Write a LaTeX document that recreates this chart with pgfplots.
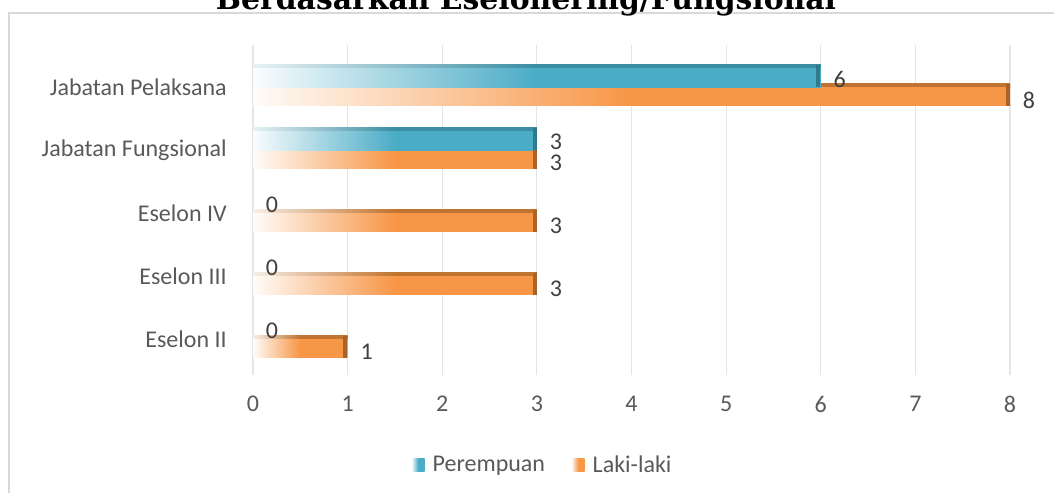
\documentclass[border=0pt]{standalone}
\usepackage{pgfplots}
\pgfplotsset{compat=1.18}
\usepackage{fontspec}
\setmainfont{Carlito}
\newfontfamily\titlefont{DejaVu Serif}

\definecolor{pblue}{HTML}{4BACC6}
\definecolor{pbluetop}{HTML}{3A8DA3}
\definecolor{pblueside}{HTML}{2F7A8E}
\definecolor{lorange}{HTML}{F79646}
\definecolor{lorangetop}{HTML}{C0742F}
\definecolor{lorangeside}{HTML}{A8622A}
\definecolor{txtgray}{HTML}{595959}
\definecolor{lblgray}{HTML}{404040}
\definecolor{framegray}{HTML}{D9D9D9}

\tikzset{label node/.style={font=\fontsize{18}{20}\selectfont, text=lblgray,
    anchor=west, inner sep=0pt, xshift=9.5pt}}

% one \addplot per bar, so that each bar gets its own gradient;
% the empty node at the bar end is the darker side face
\pgfplotsset{
  obar/.style={xbar, bar width=0.3, bar shift=-0.15, draw=none, forget plot,
    left color=lorange!3, right color=lorange, middle color=lorange,
    nodes near coords={}, every node near coord/.append style={anchor=east,
      fill=lorangeside, inner sep=0pt, minimum width=3pt, minimum height=16.5pt,
      yshift=-5.8pt}},
  otop/.style={xbar, bar width=0.06, bar shift=0.03, draw=none, forget plot,
    left color=lorangetop!12, right color=lorangetop, middle color=lorangetop},
  bbar/.style={xbar, bar width=0.3, bar shift=0.15, draw=none, forget plot,
    left color=pblue!3, right color=pblue, middle color=pblue,
    nodes near coords={}, every node near coord/.append style={anchor=east,
      fill=pblueside, inner sep=0pt, minimum width=3pt, minimum height=16.5pt,
      yshift=8.3pt}},
  btop/.style={xbar, bar width=0.06, bar shift=0.33, draw=none, forget plot,
    left color=pbluetop!12, right color=pbluetop, middle color=pbluetop},
}

\begin{document}
\begin{tikzpicture}
\useasboundingbox (0,0) rectangle (790.5pt,369.75pt);
\draw[framegray, line width=1.5pt] (6.75pt,-2pt) -- (6.75pt,360pt) -- (800pt,360pt);
\node[anchor=base, inner sep=0pt] at (394.5pt,362.25pt)
  {\resizebox{465pt}{!}{\titlefont\bfseries Berdasarkan Eselonering/Fungsional}};

\begin{axis}[
  at={(189.75pt,88.5pt)}, anchor=south west,
  scale only axis, width=567.75pt, height=247.5pt,
  xmin=0, xmax=8, ymin=-0.571, ymax=4.667,
  xtick={0,...,8}, ytick={0,...,4},
  yticklabels={Eselon II,Eselon III,Eselon IV,Jabatan Fungsional,Jabatan Pelaksana},
  axis line style={draw=none}, tick style={draw=none},
  xmajorgrids, grid style={black!10, line width=0.8pt},
  /pgf/number format/assume math mode=true,
  tick label style={font=\fontsize{18}{20}\selectfont, text=txtgray, inner sep=0pt},
  yticklabel style={xshift=-19.5pt},
  xticklabel style={yshift=-15.75pt},
  legend style={at={(0.383,-0.273)}, anchor=center, draw=none, fill=none,
    font=\fontsize{18}{20}\selectfont, text=txtgray, legend columns=2,
    /tikz/every odd column/.append style={column sep=4pt},
    /tikz/every even column/.append style={column sep=18pt}},
  legend image code/.code={\path[#1] (0pt,-4.875pt) rectangle (9.75pt,4.875pt);},
]
\addlegendimage{draw=none, left color=pblue!3, right color=pblue, middle color=pblue}
\addlegendentry{Perempuan}
\addlegendimage{draw=none, left color=lorange!3, right color=lorange, middle color=lorange}
\addlegendentry{Laki-laki}

% Laki-laki: top faces, then front faces
\addplot[otop] coordinates {(1,0)};
\addplot[otop] coordinates {(3,1)};
\addplot[otop] coordinates {(3,2)};
\addplot[otop] coordinates {(3,3)};
\addplot[otop] coordinates {(8,4)};
\addplot[obar] coordinates {(1,0)};
\addplot[obar] coordinates {(3,1)};
\addplot[obar] coordinates {(3,2)};
\addplot[obar] coordinates {(3,3)};
\addplot[obar] coordinates {(8,4)};
% Perempuan (the zero values have no bar, only a label)
\addplot[btop] coordinates {(3,3)};
\addplot[btop] coordinates {(6,4)};
\addplot[bbar] coordinates {(3,3)};
\addplot[bbar] coordinates {(6,4)};

% value labels
\addplot[only marks, mark=none, forget plot, point meta=x, nodes near coords,
  every node near coord/.append style={label node, yshift=6pt}]
  coordinates {(0,0) (0,1) (0,2) (3,3) (6,4)};
\addplot[only marks, mark=none, forget plot, point meta=x, nodes near coords,
  every node near coord/.append style={label node, yshift=-9.75pt}]
  coordinates {(1,0) (3,1) (3,2) (3,3) (8,4)};
\end{axis}
\end{tikzpicture}
\end{document}
